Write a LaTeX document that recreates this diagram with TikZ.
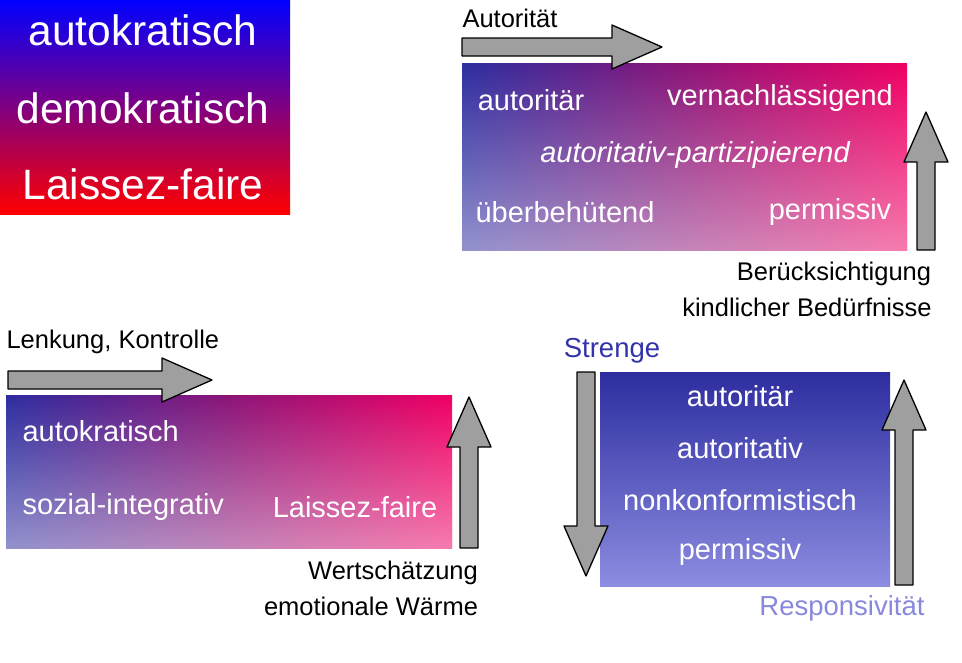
\documentclass[tikz,border=0pt]{standalone}
\usepackage{fontspec}
\setmainfont{Liberation Sans}
\usetikzlibrary{fadings}
\begin{document}
\begin{tikzpicture}[x=1pt,y=-1pt,
  wt/.style={text=white,font=\fontsize{29}{32}\selectfont},
  big/.style={text=white,font=\fontsize{42.5}{46}\selectfont},
  lab/.style={text=black,font=\fontsize{25.5}{28}\selectfont},
  fatstyle/.style={fill=gray!75,draw=black,line width=1.3pt,line join=round},
  pics/fat/.style={code={\draw[fatstyle] (0,-9) -- (#1-50,-9) -- (#1-50,-22) -- (#1,0) -- (#1-50,22) -- (#1-50,9) -- (0,9) -- cycle;}}]
\useasboundingbox (0,0) rectangle (962,662);
% top-left box
\shade[top color=blue,bottom color=red,middle color={rgb,255:red,128;green,0;blue,128}] (0,0) rectangle (290,214);
\node[big] (a1) at (143,30) {autokratisch};
\node[big] (a2) at (143,108) {demokratisch};
\node[big] (a3) at (143,184) {Laissez-faire};
% top-right box
\shade[left color={rgb,255:red,45;green,45;blue,160},right color={rgb,255:red,240;green,0;blue,100},middle color={rgb,255:red,140;green,20;blue,120}] (462,63) rectangle (907,250);
\begin{scope}
\clip (462,63) rectangle (907,250);
\fill[white,opacity=0.5,path fading=north] (462,63) rectangle (907,256);
\end{scope}
\node[wt] (b1) at (531,100) {autoritär};
\node[wt] (b2) at (780,98) {vernachlässigend};
\node[wt,font=\fontsize{29}{32}\selectfont\itshape] (b3) at (695,155) {autoritativ-partizipierend};
\node[wt] (b4) at (565,212) {überbehütend};
\node[wt] (b5) at (830,212) {permissiv};
\pic at (462,47) {fat=200};
\node[lab,anchor=west] (l1) at (459,18) {Autorität};
\pic[rotate=90] at (926,250) {fat=138};
\node[lab] (l2) at (834,274) {Berücksichtigung};
\node[lab] (l3) at (807,307) {kindlicher Bedürfnisse};
% bottom-left box
\shade[left color={rgb,255:red,45;green,45;blue,160},right color={rgb,255:red,240;green,0;blue,100},middle color={rgb,255:red,140;green,20;blue,120}] (6,395) rectangle (452,548);
\begin{scope}
\clip (6,395) rectangle (452,548);
\fill[white,opacity=0.5,path fading=north] (6,395) rectangle (452,554);
\end{scope}
\node[wt,anchor=west] (c1) at (19,431) {autokratisch};
\node[wt,anchor=west] (c2) at (19,507) {sozial-integrativ};
\node[wt] (c3) at (355,507) {Laissez-faire};
\pic at (8,380) {fat=204};
\node[lab,anchor=west] (l4) at (3,342) {Lenkung, Kontrolle};
\pic[rotate=90] at (469,548) {fat=151};
\node[lab] (l5) at (393,573) {Wertschätzung};
\node[lab] (l6) at (371,606) {emotionale Wärme};
% bottom-right box
\shade[top color={rgb,255:red,45;green,45;blue,160},bottom color={rgb,255:red,140;green,140;blue,225}] (600,372) rectangle (890,586);
\node[wt] (d1) at (740,396) {autoritär};
\node[wt] (d2) at (740,448) {autoritativ};
\node[wt] (d3) at (740,500) {nonkonformistisch};
\node[wt] (d4) at (740,552) {permissiv};
\pic[rotate=-90] at (586,372) {fat=204};
\node[font=\fontsize{27.5}{30}\selectfont,text={rgb,255:red,50;green,50;blue,170}] (l7) at (612,351) {Strenge};
\pic[rotate=90] at (904,585) {fat=205};
\node[font=\fontsize{27.5}{30}\selectfont,text={rgb,255:red,136;green,136;blue,221}] (l8) at (842,608) {Responsivität};
\end{tikzpicture}
\end{document}
